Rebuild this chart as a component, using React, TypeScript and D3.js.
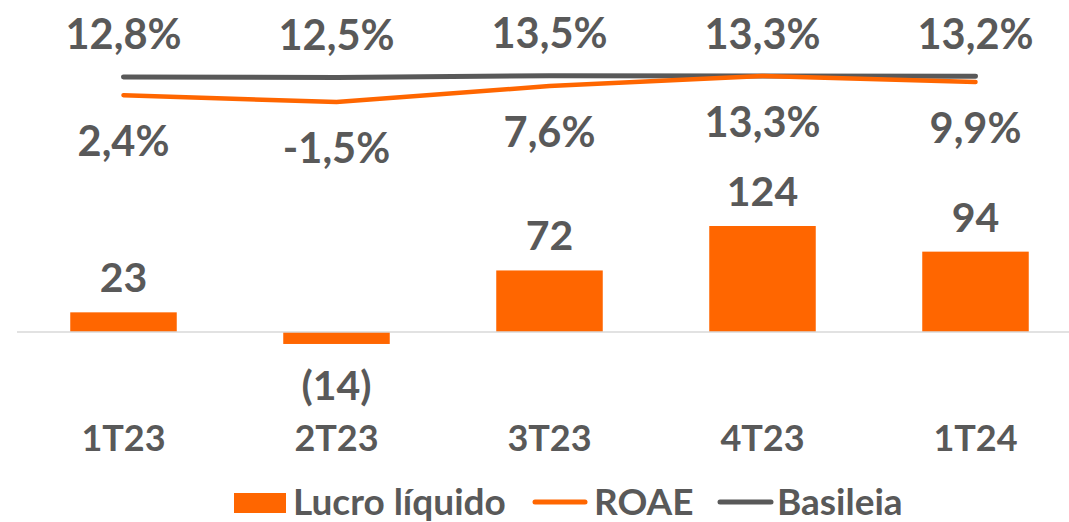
import React from "react";
import * as d3 from "d3";

const categories = ["1T23", "2T23", "3T23", "4T23", "1T24"];
const lucroLiquido = [23, -14, 72, 124, 94];
const lucroLabels = ["23", "(14)", "72", "124", "94"];
const roae = [2.4, -1.5, 7.6, 13.3, 9.9];
const basileia = [12.8, 12.5, 13.5, 13.3, 13.2];
const pctLabel = (v: number) => v.toFixed(1).replace(".", ",") + "%";

const W = 1069;
const H = 522;
const ORANGE = "#FF6600";
const GRAY = "#595959";
const FONT = "Lato, 'Open Sans', sans-serif";

export default function App() {
  const x = d3
    .scaleBand<string>()
    .domain(categories)
    .range([17, 1082])
    .paddingInner(0.5)
    .paddingOuter(0.25);
  const y = d3.scaleLinear().domain([0, 124]).range([332, 226]);
  const y2 = d3.scaleLinear().domain([0, 13.3]).range([99.4, 76]);
  const cx = (c: string) => (x(c) as number) + x.bandwidth() / 2;

  const line = d3
    .line<number>()
    .x((_, i) => cx(categories[i]))
    .y((d) => y2(d));

  return (
    <svg
      width={W}
      height={H}
      style={{ position: "absolute", left: 0, top: 0, background: "#fff" }}
      fontFamily={FONT}
      fontWeight={700}
    >
      {/* bars */}
      {lucroLiquido.map((v, i) => (
        <rect
          key={"b" + i}
          x={x(categories[i])}
          width={x.bandwidth()}
          y={Math.min(y(v), y(0))}
          height={Math.abs(y(v) - y(0))}
          fill={ORANGE}
        />
      ))}
      {/* zero axis */}
      <line x1={17} x2={W} y1={y(0)} y2={y(0)} stroke="#d9d9d9" strokeWidth={1.5} />
      {/* bar labels */}
      {lucroLiquido.map((v, i) => (
        <text
          key={"bl" + i}
          x={cx(categories[i])}
          y={v >= 0 ? y(v) - 20 : y(v) + 56}
          textAnchor="middle"
          fontSize={41}
          fill={GRAY}
        >
          {lucroLabels[i]}
        </text>
      ))}
      {/* lines */}
      <path d={line(basileia) || ""} fill="none" stroke={GRAY} strokeWidth={5} strokeLinecap="round" strokeLinejoin="round" />
      <path d={line(roae) || ""} fill="none" stroke={ORANGE} strokeWidth={4.5} strokeLinecap="round" strokeLinejoin="round" />
      {/* line labels */}
      {basileia.map((v, i) => (
        <text key={"ba" + i} x={cx(categories[i])} y={y2(v) - 27.5} textAnchor="middle" fontSize={41.5} fill={GRAY}>
          {pctLabel(v)}
        </text>
      ))}
      {roae.map((v, i) => (
        <text key={"ro" + i} x={cx(categories[i])} y={y2(v) + 61} textAnchor="middle" fontSize={41.5} fill={GRAY}>
          {pctLabel(v)}
        </text>
      ))}
      {/* category labels */}
      {categories.map((c) => (
        <text key={"c" + c} x={cx(c)} y={451} textAnchor="middle" fontSize={36} fill={GRAY}>
          {c}
        </text>
      ))}
      {/* legend */}
      <g>
        <rect x={234} y={493} width={52} height={20} fill={ORANGE} />
        <text x={293} y={515} fontSize={37} fill={GRAY}>Lucro líquido</text>
        <line x1={535} x2={585} y1={502} y2={502} stroke={ORANGE} strokeWidth={5} strokeLinecap="round" />
        <text x={594} y={515} fontSize={37} fill={GRAY}>ROAE</text>
        <line x1={720} x2={771} y1={502} y2={502} stroke={GRAY} strokeWidth={5} strokeLinecap="round" />
        <text x={777} y={515} fontSize={37} fill={GRAY}>Basileia</text>
      </g>
    </svg>
  );
}
